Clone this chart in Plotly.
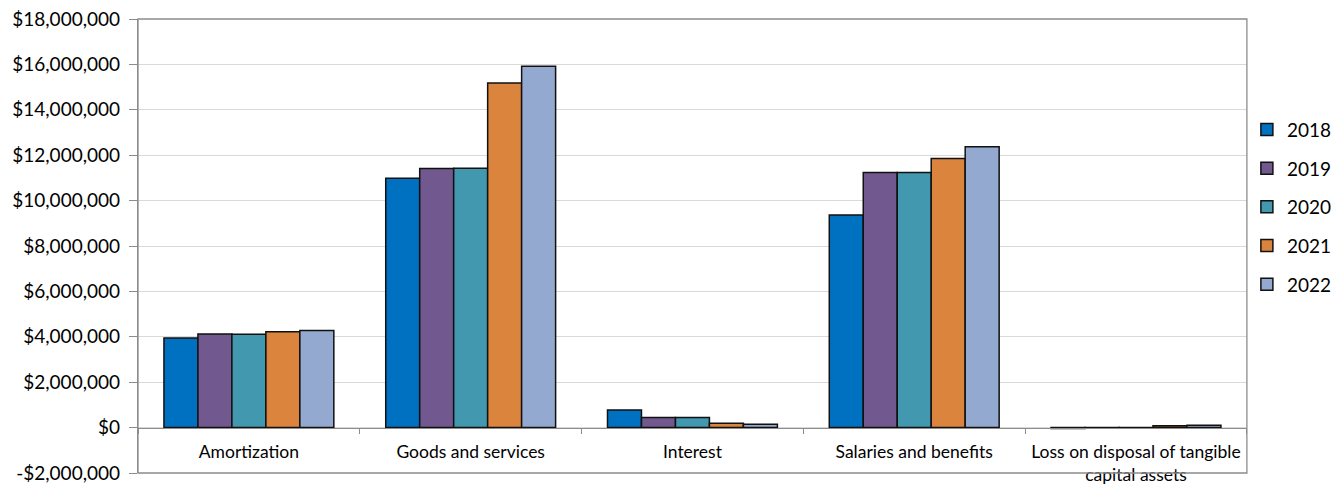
import plotly.graph_objects as go

# Expense categories and yearly amounts
categories = [
    "Amortization",
    "Goods and services",
    "Interest",
    "Salaries and benefits",
    "Loss on disposal of tangible<br>capital assets",
]
years = ["2018", "2019", "2020", "2021", "2022"]
values_2018 = [3950000, 10990000, 780000, 9370000, -40000]
values_2019 = [4120000, 11410000, 440000, 11240000, 5000]
values_2020 = [4110000, 11430000, 440000, 11240000, 5000]
values_2021 = [4220000, 15180000, 190000, 11850000, 80000]
values_2022 = [4280000, 15920000, 150000, 12370000, 100000]
series = [values_2018, values_2019, values_2020, values_2021, values_2022]
colors = ["#0070C0", "#71588F", "#4198AF", "#DB843D", "#93A9CF"]

y_ticks = [-2000000, 0, 2000000, 4000000, 6000000, 8000000, 10000000,
           12000000, 14000000, 16000000, 18000000]
y_tick_labels = ["-$2,000,000", "$0", "$2,000,000", "$4,000,000", "$6,000,000",
                 "$8,000,000", "$10,000,000", "$12,000,000", "$14,000,000",
                 "$16,000,000", "$18,000,000"]

y_min, y_max = y_ticks[0], y_ticks[-1]
axis_gray = "#8C8C8C"
font_family = "Lato, 'Open Sans', sans-serif"

fig = go.Figure()
for year, vals, col in zip(years, series, colors):
    fig.add_trace(go.Bar(
        name=year,
        x=categories,
        y=vals,
        legendgroup=year,
        marker=dict(color=col, line=dict(color="#111111", width=1.5)),
    ))

fig.update_layout(
    width=1335,
    height=485,
    margin=dict(l=138, r=87, t=19, b=12),
    paper_bgcolor="white",
    plot_bgcolor="white",
    barmode="group",
    bargap=0.234,
    bargroupgap=0,
    font=dict(family=font_family, size=17, color="#000000"),
    showlegend=True,
    legend=dict(
        xref="container", yref="container",
        x=0.934, xanchor="left",
        y=0.772, yanchor="top",
        font=dict(size=19),
        tracegroupgap=11,
        bgcolor="rgba(0,0,0,0)",
    ),
    xaxis=dict(
        type="category",
        anchor="free",
        position=(0 - y_min) / (y_max - y_min),
        automargin=False,
        showline=True,
        linecolor=axis_gray,
        linewidth=1.3,
        ticks="outside",
        tickson="boundaries",
        ticklen=5,
        tickcolor=axis_gray,
        ticklabelstandoff=8,
        showgrid=False,
        tickfont=dict(size=17.5),
    ),
    yaxis=dict(
        range=[y_min, y_max],
        automargin=False,
        tickvals=y_ticks,
        ticktext=y_tick_labels,
        showline=True,
        linecolor=axis_gray,
        linewidth=1.3,
        ticks="outside",
        ticklen=8,
        tickcolor=axis_gray,
        ticklabelstandoff=5,
        showgrid=True,
        gridcolor="#D9D9D9",
        gridwidth=1.3,
        zeroline=False,
        tickfont=dict(size=19),
    ),
    shapes=[dict(
        type="rect", xref="paper", yref="paper",
        x0=0, x1=1, y0=0, y1=1,
        line=dict(color=axis_gray, width=1.3),
        fillcolor="rgba(0,0,0,0)",
    )],
)

fig.write_html("out.html")
